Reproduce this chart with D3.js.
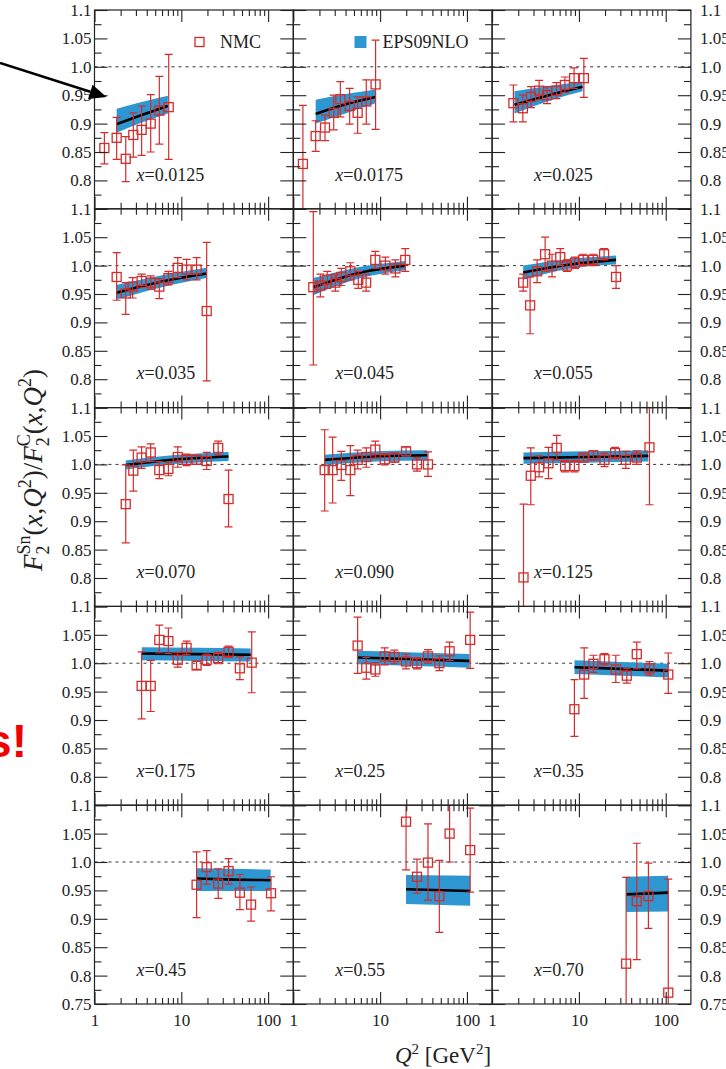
<!DOCTYPE html>
<html>
<head>
<meta charset="utf-8">
<script src="https://cdn.jsdelivr.net/npm/d3@7"></script>
<style>
  body { margin: 0; background: #fff; }
  svg { display: block; }
</style>
</head>
<body>
<svg id="chart" width="726" height="1069"></svg>
<script>
// ---- Bjorken-x bins, one panel each ----
const xBins = ["0.0125", "0.0175", "0.025", "0.035", "0.045", "0.055",
               "0.070", "0.090", "0.125", "0.175", "0.25", "0.35",
               "0.45", "0.55", "0.70"];

// ---- NMC Sn/C ratios: [Q2, ratio, lower error end, upper error end] ----
const nmc0125 = [[1.30,0.857,0.829,0.884],[1.80,0.875,0.837,0.911],[2.29,0.838,0.798,0.877],[2.80,0.880,0.841,0.919],
                 [3.49,0.889,0.844,0.931],[4.44,0.900,0.850,0.951],[5.58,0.923,0.864,0.983],[7.16,0.929,0.837,1.022]];
const nmc0175 = [[1.29,0.829,0.700,0.932],[1.81,0.878,0.851,0.905],[2.32,0.893,0.870,0.915],[2.92,0.919,0.889,0.950],
                 [3.48,0.943,0.912,0.974],[4.46,0.931,0.899,0.962],[5.51,0.919,0.883,0.947],[6.93,0.939,0.899,0.977],
                 [8.87,0.969,0.890,1.047]];
const nmc025  = [[1.76,0.936,0.903,0.968],[2.26,0.927,0.903,0.950],[2.81,0.947,0.928,0.965],[3.48,0.958,0.942,0.976],
                 [4.30,0.950,0.935,0.965],[5.50,0.958,0.944,0.972],[6.90,0.968,0.955,0.982],[8.80,0.980,0.962,0.998],
                 [11.4,0.980,0.946,1.015]];
const nmc035  = [[1.80,0.980,0.939,1.023],[2.29,0.951,0.914,0.970],[2.75,0.963,0.943,0.979],[3.49,0.973,0.961,0.985],
                 [4.44,0.970,0.958,0.982],[5.58,0.963,0.942,0.977],[7.10,0.978,0.966,0.990],[9.10,0.996,0.979,1.014],
                 [11.5,0.993,0.975,1.011],[15.0,0.993,0.975,1.014],[19.6,0.920,0.797,1.041]];
const nmc045  = [[1.70,0.962,0.825,1.095],[2.05,0.965,0.945,0.985],[2.46,0.975,0.960,0.990],[3.05,0.970,0.955,0.985],
                 [3.57,0.980,0.965,0.995],[4.54,0.990,0.975,1.005],[5.60,0.975,0.960,0.990],[6.90,0.970,0.955,0.985],
                 [8.80,1.010,0.995,1.025],[11.5,1.000,0.985,1.015],[15.0,0.995,0.980,1.010],[19.5,1.010,0.990,1.030]];
const nmc055  = [[2.28,0.970,0.955,0.985],[2.74,0.930,0.880,0.980],[3.30,0.990,0.970,1.010],[4.08,1.020,0.990,1.050],
                 [4.90,1.000,0.980,1.020],[6.10,1.015,1.000,1.030],[7.30,1.000,0.990,1.010],[9.00,1.005,0.995,1.015],
                 [11.2,1.010,1.000,1.020],[14.6,1.010,1.000,1.020],[19.5,1.020,1.010,1.030],[26.8,0.980,0.960,1.000]];
const nmc070  = [[2.29,0.930,0.862,0.999],[2.80,0.989,0.953,1.025],[3.49,1.012,0.993,1.031],[4.44,1.021,1.005,1.036],
                 [5.58,0.990,0.975,1.005],[7.10,0.992,0.980,1.004],[9.10,1.013,0.995,1.031],[11.5,1.008,0.998,1.018],
                 [15.0,1.008,1.000,1.016],[19.6,1.006,0.991,1.021],[26.6,1.029,1.017,1.041],[35.0,0.939,0.890,0.990]];
const nmc090  = [[2.30,0.990,0.918,1.061],[2.84,0.990,0.932,1.048],[3.57,0.999,0.972,1.023],[4.54,0.990,0.945,1.033],
                 [5.51,1.008,0.992,1.025],[6.93,1.013,0.995,1.029],[8.81,1.026,1.011,1.041],[11.3,1.009,0.999,1.019],
                 [14.6,1.012,1.004,1.020],[19.9,1.023,1.015,1.031],[26.6,1.000,0.988,1.012],[35.6,1.000,0.979,1.022]];
const nmc125  = [[2.30,0.801,0.670,0.930],[2.79,0.980,0.929,1.029],[3.48,0.995,0.978,1.015],[4.46,1.002,0.975,1.030],
                 [5.55,1.029,1.008,1.051],[6.93,0.997,0.987,1.007],[8.87,0.997,0.987,1.007],[11.3,1.012,1.006,1.018],
                 [14.7,1.016,1.008,1.024],[19.7,1.008,0.996,1.020],[26.1,1.020,1.010,1.030],[34.7,1.008,0.993,1.023],
                 [46.4,1.012,1.000,1.024],[65.0,1.030,0.929,1.100]];
const nmc175  = [[3.49,0.960,0.902,1.020],[4.44,0.960,0.915,1.005],[5.58,1.041,1.018,1.067],[7.10,1.039,1.017,1.062],
                 [9.10,1.006,0.993,1.019],[11.5,1.027,1.015,1.039],[15.0,0.996,0.989,1.003],[19.6,1.006,0.996,1.016],
                 [26.6,1.009,0.999,1.019],[35.0,1.020,1.010,1.030],[47.3,0.991,0.971,1.011],[64.7,1.001,0.948,1.055]];
const nmc25   = [[5.51,1.031,0.982,1.081],[6.93,0.992,0.972,1.010],[8.81,0.989,0.977,1.001],[11.3,1.012,0.997,1.027],
                 [14.6,1.011,0.999,1.023],[19.9,1.003,0.990,1.016],[26.6,1.000,0.990,1.010],[35.6,1.012,1.000,1.024],
                 [48.1,1.000,0.987,1.013],[63.2,1.021,1.005,1.037],[109,1.041,0.991,1.090]];
const nmc35   = [[8.87,0.919,0.871,0.971],[11.5,0.980,0.938,1.027],[14.7,0.999,0.984,1.014],[19.7,1.007,0.997,1.017],
                 [26.6,0.989,0.966,1.014],[35.6,0.978,0.965,0.991],[46.4,1.016,0.990,1.037],[65.0,0.991,0.979,1.003],
                 [107,0.980,0.947,1.018]];
const nmc45   = [[15.0,0.960,0.902,1.018],[19.6,0.991,0.961,1.020],[26.6,0.962,0.936,0.988],[35.0,0.984,0.961,1.006],
                 [47.3,0.946,0.916,0.978],[63.6,0.925,0.896,0.956],[108,0.945,0.914,0.974]];
const nmc55   = [[19.9,1.071,0.986,1.140],[26.6,0.974,0.945,1.005],[35.6,0.999,0.933,1.067],[48.1,0.940,0.876,1.003],
                 [63.2,1.050,1.000,1.130],[109,1.021,0.947,1.095]];
const nmc70   = [[35.0,0.821,0.700,0.973],[46.4,0.931,0.828,1.033],[63.2,0.940,0.883,0.998],[107,0.770,0.700,0.970]];

// ---- EPS09NLO uncertainty band: [Q2, lower, central, upper] ----
const eps0125 = [[1.8,0.884,0.899,0.926],[3.5,0.902,0.915,0.938],[7.0,0.918,0.931,0.949]];
const eps0175 = [[1.81,0.900,0.917,0.942],[4.0,0.918,0.934,0.952],[8.87,0.936,0.947,0.960]];
const eps025  = [[1.81,0.918,0.933,0.957],[4.5,0.940,0.950,0.966],[11.0,0.957,0.965,0.974]];
const eps035  = [[1.78,0.940,0.952,0.966],[6.0,0.962,0.972,0.983],[19.6,0.978,0.986,0.996]];
const eps045  = [[1.7,0.948,0.962,0.978],[6.0,0.978,0.988,0.998],[19.5,0.992,1.000,1.008]];
const eps055  = [[2.28,0.975,0.988,1.000],[8.0,0.995,1.002,1.012],[26.8,1.002,1.010,1.018]];
const eps070  = [[2.29,0.991,0.999,1.007],[9.0,1.001,1.009,1.017],[35.0,1.006,1.014,1.022]];
const eps090  = [[2.3,0.999,1.008,1.017],[9.0,1.005,1.014,1.023],[35.0,1.007,1.016,1.025]];
const eps125  = [[2.3,1.001,1.011,1.021],[12.0,1.003,1.013,1.023],[63.0,1.005,1.015,1.025]];
const eps175  = [[3.5,1.005,1.017,1.028],[15.0,1.004,1.016,1.027],[63.0,1.003,1.015,1.026]];
const eps25   = [[5.5,0.998,1.010,1.022],[25.0,0.995,1.007,1.019],[107,0.992,1.004,1.016]];
const eps35   = [[8.9,0.981,0.993,1.005],[30.0,0.978,0.990,1.002],[107,0.975,0.987,0.999]];
const eps45   = [[15.0,0.949,0.971,0.989],[40.0,0.949,0.969,0.988],[107,0.949,0.968,0.987]];
const eps55   = [[19.9,0.926,0.952,0.977],[109,0.923,0.949,0.976]];
const eps70   = [[35.0,0.912,0.943,0.974],[107,0.913,0.946,0.976]];

// ---- axis ticks ----
const yMajor = [0.75, 0.8, 0.85, 0.9, 0.95, 1.0, 1.05, 1.1];
const yMinor = [0.775, 0.825, 0.875, 0.925, 0.975, 1.025, 1.075];
const yTickLabels = ["0.75", "0.8", "0.85", "0.9", "0.95", "1.0", "1.05", "1.1"];
const xMajor = [1, 10, 100];
const xMinor = [2, 3, 4, 5, 6, 7, 8, 9, 20, 30, 40, 50, 60, 70, 80, 90];
const xTickLabels = ["1", "10", "100"];

const nmcSets = [nmc0125, nmc0175, nmc025, nmc035, nmc045, nmc055, nmc070, nmc090,
                 nmc125, nmc175, nmc25, nmc35, nmc45, nmc55, nmc70];
const epsSets = [eps0125, eps0175, eps025, eps035, eps045, eps055, eps070, eps090,
                 eps125, eps175, eps25, eps35, eps45, eps55, eps70];
const panels = xBins.map((xb, i) => ({ label: xb, nmc: nmcSets[i], eps: epsSets[i] }));

// ---- layout ----
const colX = [94.5, 293.3, 492.1];
const rowY = [10, 208.8, 407.6, 606.4, 805.2];
const panelW = 198.8, panelH = 198.8;
const nRows = 5, nCols = 3;

const RED = "#d42b2b", BLUE = "#2e96d0", AXIS = "#222";
const SERIF = "'Liberation Serif', 'Times New Roman', serif";

const svg = d3.select("#chart");
const defs = svg.append("defs");

const x = d3.scaleLog().domain([1, 195]).range([0, panelW]);
const y = d3.scaleLinear().domain([0.75, 1.1]).range([panelH, 0]);

const band = d3.area()
  .x(d => x(d[0])).y0(d => y(d[1])).y1(d => y(d[3]))
  .curve(d3.curveMonotoneX);
const centre = d3.line()
  .x(d => x(d[0])).y(d => y(d[2]))
  .curve(d3.curveMonotoneX);

function tickAxis(axisFn, scale, values, size) {
  return axisFn(scale).tickValues(values).tickSize(size).tickSizeOuter(0).tickFormat("");
}
function styleTicks(sel) {
  sel.select(".domain").remove();
  sel.selectAll(".tick line").attr("stroke", AXIS).attr("stroke-width", 1.1);
}

panels.forEach((p, i) => {
  const r = Math.floor(i / nCols), c = i % nCols;
  const g = svg.append("g").attr("transform", `translate(${colX[c]},${rowY[r]})`);

  const clipId = "panel-clip-" + i;
  defs.append("clipPath").attr("id", clipId)
    .append("rect").attr("width", panelW).attr("height", panelH);
  const plot = g.append("g").attr("clip-path", `url(#${clipId})`);

  // unity reference
  plot.append("line")
    .attr("x1", 0).attr("x2", panelW)
    .attr("y1", y(1.0)).attr("y2", y(1.0))
    .attr("stroke", "#333").attr("stroke-width", 1)
    .attr("stroke-dasharray", "3,4");

  // EPS09NLO band and central curve
  plot.append("path").datum(p.eps).attr("d", band).attr("fill", BLUE);
  plot.append("path").datum(p.eps).attr("d", centre)
    .attr("fill", "none").attr("stroke", "#000").attr("stroke-width", 2.6);

  // NMC error bars
  const pts = plot.append("g").attr("stroke", RED).attr("stroke-width", 1.2).attr("fill", "none");
  const cap = 4;
  const eb = pts.selectAll("g.eb").data(p.nmc).join("g").attr("class", "eb");
  eb.append("line")
    .attr("x1", d => x(d[0])).attr("x2", d => x(d[0]))
    .attr("y1", d => y(d[2])).attr("y2", d => y(d[3]));
  eb.append("line")
    .attr("x1", d => x(d[0]) - cap).attr("x2", d => x(d[0]) + cap)
    .attr("y1", d => y(d[2])).attr("y2", d => y(d[2]));
  eb.append("line")
    .attr("x1", d => x(d[0]) - cap).attr("x2", d => x(d[0]) + cap)
    .attr("y1", d => y(d[3])).attr("y2", d => y(d[3]));
  // open squares
  const s = 9;
  pts.selectAll("rect.pt").data(p.nmc).join("rect").attr("class", "pt")
    .attr("x", d => x(d[0]) - s / 2).attr("y", d => y(d[1]) - s / 2)
    .attr("width", s).attr("height", s)
    .attr("fill", "none").attr("stroke", RED).attr("stroke-width", 1.3);

  // inward ticks on all four sides
  g.append("g").call(tickAxis(d3.axisLeft, y, yMajor, -13)).call(styleTicks);
  g.append("g").call(tickAxis(d3.axisLeft, y, yMinor, -7)).call(styleTicks);
  g.append("g").attr("transform", `translate(${panelW},0)`).call(tickAxis(d3.axisRight, y, yMajor, -13)).call(styleTicks);
  g.append("g").attr("transform", `translate(${panelW},0)`).call(tickAxis(d3.axisRight, y, yMinor, -7)).call(styleTicks);
  g.append("g").call(tickAxis(d3.axisTop, x, xMajor, -12)).call(styleTicks);
  g.append("g").call(tickAxis(d3.axisTop, x, xMinor, -6)).call(styleTicks);
  g.append("g").attr("transform", `translate(0,${panelH})`).call(tickAxis(d3.axisBottom, x, xMajor, -12)).call(styleTicks);
  g.append("g").attr("transform", `translate(0,${panelH})`).call(tickAxis(d3.axisBottom, x, xMinor, -6)).call(styleTicks);

  // frame
  g.append("rect").attr("width", panelW).attr("height", panelH)
    .attr("fill", "none").attr("stroke", AXIS).attr("stroke-width", 1.2);

  // bin label
  const lab = g.append("text")
    .attr("x", 42).attr("y", 170.5)
    .attr("font-family", SERIF).attr("font-size", 18).attr("fill", "#222");
  lab.append("tspan").attr("font-style", "italic").text("x");
  lab.append("tspan").text("=" + p.label);

  // value labels on the outer edges
  const labelVals = r === nRows - 1 ? yMajor : yMajor.slice(1);
  const fmt = v => yTickLabels[yMajor.indexOf(v)];
  const styleLabels = sel => {
    sel.select(".domain").remove();
    sel.selectAll(".tick line").remove();
    sel.selectAll("text").attr("font-family", SERIF).attr("font-size", 17).attr("fill", "#222");
  };
  if (c === 0) {
    g.append("g").call(d3.axisLeft(y).tickValues(labelVals).tickSize(0).tickPadding(3).tickFormat(fmt)).call(styleLabels);
  }
  if (c === nCols - 1) {
    g.append("g").attr("transform", `translate(${panelW},0)`)
      .call(d3.axisRight(y).tickValues(labelVals).tickSize(0).tickPadding(9).tickFormat(fmt)).call(styleLabels);
  }
  if (r === nRows - 1) {
    g.append("g").attr("transform", `translate(0,${panelH})`)
      .call(d3.axisBottom(x).tickValues(xMajor).tickSize(0).tickPadding(10)
        .tickFormat(v => xTickLabels[xMajor.indexOf(v)])).call(styleLabels);
  }
});

// ---- legend ----
const legend = svg.append("g").attr("font-family", SERIF).attr("font-size", 18).attr("fill", "#222");
legend.append("rect").attr("x", 195).attr("y", 37.5).attr("width", 9).attr("height", 9)
  .attr("fill", "none").attr("stroke", RED).attr("stroke-width", 1.3);
legend.append("text").attr("x", 220).attr("y", 48).text("NMC");
legend.append("rect").attr("x", 354.5).attr("y", 36).attr("width", 12).attr("height", 12).attr("fill", BLUE);
legend.append("text").attr("x", 382.5).attr("y", 48).text("EPS09NLO");

// ---- axis titles ----
const xt = svg.append("text")
  .attr("x", 443).attr("y", 1063).attr("text-anchor", "middle")
  .attr("font-family", SERIF).attr("font-size", 23).attr("fill", "#222");
xt.append("tspan").attr("font-style", "italic").text("Q");
xt.append("tspan").attr("font-size", 15).attr("dy", -9).text("2");
xt.append("tspan").attr("dy", 9).text(" [GeV");
xt.append("tspan").attr("font-size", 15).attr("dy", -9).text("2");
xt.append("tspan").attr("dy", 9).text("]");

const yt = svg.append("text")
  .attr("transform", "translate(42,470) rotate(-90)")
  .attr("text-anchor", "middle")
  .attr("font-family", SERIF).attr("font-size", 27).attr("fill", "#222");
function ratioPart(t, nucleus) {
  t.append("tspan").attr("font-style", "italic").text("F");
  t.append("tspan").attr("font-size", 18).attr("dy", 7).text("2");
  t.append("tspan").attr("font-size", 18).attr("dx", -9).attr("dy", -19).text(nucleus);
  t.append("tspan").attr("dy", 12).text("(");
  t.append("tspan").attr("font-style", "italic").text("x");
  t.append("tspan").text(",");
  t.append("tspan").attr("font-style", "italic").text("Q");
  t.append("tspan").attr("font-size", 18).attr("dy", -11).text("2");
  t.append("tspan").attr("dy", 11).text(")");
}
ratioPart(yt, "Sn");
yt.append("tspan").text("/");
ratioPart(yt, "C");

// ---- annotation arrow and callout text ----
const arrowTail = [0, 63], arrowTip = [106.5, 97];
const ang = Math.atan2(arrowTip[1] - arrowTail[1], arrowTip[0] - arrowTail[0]);
const headLen = 17, headHalf = 7.5;
const bx = arrowTip[0] - headLen * Math.cos(ang), by = arrowTip[1] - headLen * Math.sin(ang);
svg.append("line")
  .attr("x1", arrowTail[0]).attr("y1", arrowTail[1]).attr("x2", bx).attr("y2", by)
  .attr("stroke", "#000").attr("stroke-width", 2.6);
svg.append("path")
  .attr("d", d3.line()([
    arrowTip,
    [bx - headHalf * Math.sin(ang), by + headHalf * Math.cos(ang)],
    [bx + headHalf * Math.sin(ang), by - headHalf * Math.cos(ang)]
  ]) + "Z")
  .attr("fill", "#000");

svg.append("text")
  .attr("x", 27).attr("y", 757).attr("text-anchor", "end")
  .attr("font-family", "'Liberation Sans', Arial, sans-serif").attr("font-weight", "bold")
  .attr("font-size", 46).attr("fill", "#f00000")
  .text("s!");
</script>
</body>
</html>
